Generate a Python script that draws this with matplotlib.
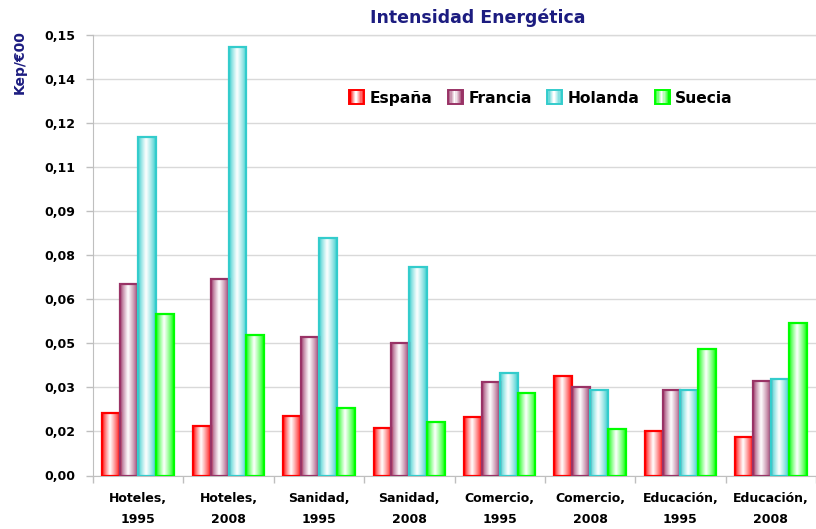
import numpy as np
import matplotlib
matplotlib.use("Agg")
import matplotlib.pyplot as plt
from matplotlib.patches import Rectangle
from matplotlib.legend_handler import HandlerBase
from matplotlib.colors import to_rgb

categories = ["Hoteles,\n1995", "Hoteles,\n2008", "Sanidad,\n1995", "Sanidad,\n2008",
              "Comercio,\n1995", "Comercio,\n2008", "Educación,\n1995", "Educación,\n2008"]
series_names = ["España", "Francia", "Holanda", "Suecia"]
espana = [0.0212, 0.0167, 0.0203, 0.0162, 0.0200, 0.0340, 0.0153, 0.0130]
francia = [0.0651, 0.0669, 0.0470, 0.0450, 0.0320, 0.0300, 0.0290, 0.0322]
holanda = [0.1151, 0.1460, 0.0810, 0.0711, 0.0350, 0.0290, 0.0290, 0.0330]
suecia = [0.0550, 0.0479, 0.0230, 0.0181, 0.0280, 0.0159, 0.0430, 0.0520]
colors = ["#FF0000", "#993366", "#33CCCC", "#00FF00"]
yticks = [0.0, 0.015, 0.03, 0.045, 0.06, 0.075, 0.09, 0.105, 0.12, 0.135, 0.15]
ytick_labels = ["0,00", "0,02", "0,03", "0,05", "0,06", "0,08", "0,09", "0,11",
                "0,12", "0,14", "0,15"]

W, H = 816, 529
fig = plt.figure(figsize=(W / 100, H / 100), dpi=100)
ax = fig.add_axes([93 / W, 53.5 / H, (816 - 93) / W, (475.5 - 35) / H])

def grad_rgb(color, n=64):
    c = np.array(to_rgb(color))
    t = np.linspace(0, 1, n)
    w = np.where(t < 0.45, t / 0.45, (1 - t) / 0.55)
    w = np.clip(w, 0, 1) ** 0.8
    return (c[None, :] * (1 - w[:, None]) + w[:, None] * 1.0)

x = np.arange(len(categories))
bw = 18 / 91
all_series = [espana, francia, holanda, suecia]
for i, (vals, col) in enumerate(zip(all_series, colors)):
    offs = (i - 1.5) * bw
    bars = ax.bar(x + offs, vals, bw, facecolor="none", edgecolor=col,
                  linewidth=1.6, zorder=4)
    g = grad_rgb(col)[None, :, :]
    for b in bars:
        x0, y0 = b.get_x(), b.get_y()
        ax.imshow(g, extent=(x0, x0 + b.get_width(), y0, y0 + b.get_height()),
                  aspect="auto", interpolation="bilinear", zorder=3)

ax.set_xlim(-0.5, 7.5 - 5 / 91)
ax.set_ylim(0, 0.15)
ax.set_yticks(yticks)
ax.set_yticklabels(ytick_labels)
ax.set_xticks(x)
ax.set_xticklabels(categories, linespacing=1.75)
ax.set_xticks(np.arange(-0.5, 8.0, 1), minor=True)
ax.tick_params(axis="x", which="major", length=0, pad=12)
ax.tick_params(axis="x", which="minor", length=5, color="#BFBFBF", width=1)
ax.tick_params(axis="y", length=5, color="#BFBFBF", width=1, pad=8)
for lab in ax.get_xticklabels() + ax.get_yticklabels():
    lab.set_fontweight("bold")
    lab.set_fontsize(9)
    lab.set_color("black")

ax.grid(axis="y", color="#D9D9D9", linewidth=1, zorder=0)
ax.set_axisbelow(True)
for s in ["top", "right"]:
    ax.spines[s].set_visible(False)
ax.spines["left"].set_color("#BFBFBF")
ax.spines["bottom"].set_color("#BFBFBF")
ax.axhline(0.15, color="#D9D9D9", lw=1, clip_on=False, zorder=0)

fig.text(478 / W, 1 - 18 / H, "Intensidad Energética", ha="center", va="center",
         fontsize=12.5, fontweight="bold", color="#1C1C80")
fig.text(20 / W, 1 - 62 / H, "Kep/€00", ha="center", va="center", rotation=90,
         fontsize=10, fontweight="bold", color="#1C1C80")

class GradHandler(HandlerBase):
    def create_artists(self, legend, orig_handle, xdescent, ydescent, width, height,
                       fontsize, trans):
        col = orig_handle.get_edgecolor()
        n = 12
        arts = []
        g = grad_rgb(col, n)
        for k in range(n):
            r = Rectangle((-xdescent + width * k / n, -ydescent), width / n + 0.3, height,
                          facecolor=g[k], edgecolor="none", transform=trans)
            arts.append(r)
        arts.append(Rectangle((-xdescent, -ydescent), width, height, facecolor="none",
                              edgecolor=col, linewidth=1.4, transform=trans))
        return arts

handles = [Rectangle((0, 0), 1, 1, edgecolor=c, facecolor="none") for c in colors]
leg = fig.legend(handles, series_names, loc="center",
                 bbox_to_anchor=(541 / W, 1 - 98 / H), ncol=4,
                 handler_map={Rectangle: GradHandler()},
                 prop={"weight": "bold", "size": 11.2}, frameon=True,
                 handlelength=0.95, handleheight=0.95, handletextpad=0.35,
                 columnspacing=1.0, borderpad=0.6, fancybox=False)
leg.get_frame().set_facecolor("white")
leg.get_frame().set_edgecolor("none")
leg.get_frame().set_alpha(1)

fig.savefig("out.png", dpi=100)
